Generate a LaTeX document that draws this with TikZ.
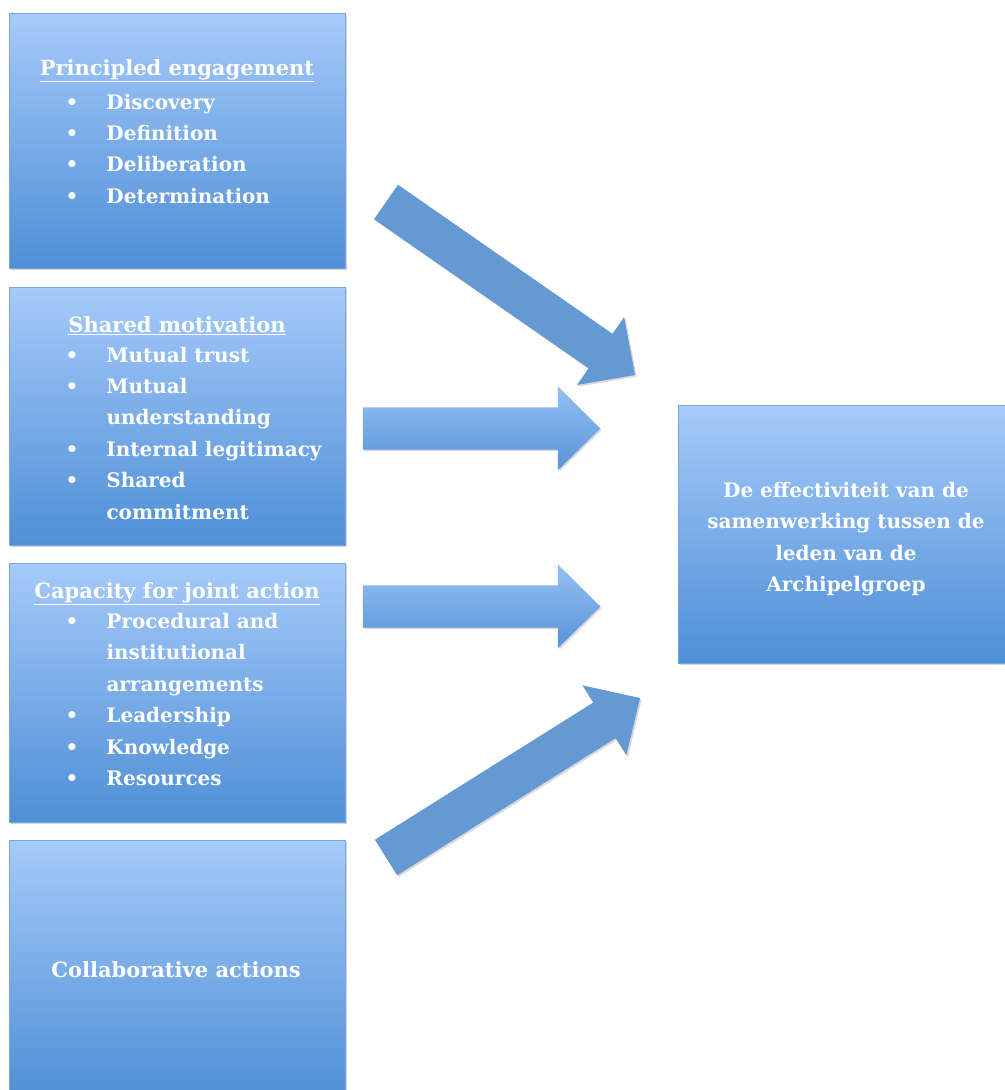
\documentclass[tikz,border=0pt]{standalone}
\usepackage{fontspec}
\setmainfont{DejaVu Serif}
\usetikzlibrary{calc,shadows}

\definecolor{boxtop}{RGB}{166,202,250}
\definecolor{boxbottom}{RGB}{78,143,214}
\definecolor{boxedge}{RGB}{120,165,220}
\definecolor{arrowflat}{RGB}{100,153,212}
\definecolor{arrowtop}{RGB}{150,193,245}
\definecolor{arrowbottom}{RGB}{86,146,215}

\tikzset{every picture/.style={line width=0.75pt}}
\tikzset{
  bluebox/.style={rectangle, draw=boxedge, line width=0.3pt, top color=boxtop, bottom color=boxbottom,
    drop shadow={shadow xshift=1.5pt, shadow yshift=-1.5pt, opacity=0.35}, inner sep=0, minimum width=252pt},
  boxtitle/.style={text=white, font=\fontsize{15.75}{23.6}\selectfont\bfseries, inner sep=0},
  boxtext/.style={text=white, font=\fontsize{15}{23.6}\selectfont\bfseries, inner sep=0},
  flatarrow/.style={fill=arrowflat, drop shadow={shadow xshift=1.2pt, shadow yshift=-1.2pt, opacity=0.3}},
  shadedarrow/.style={top color=arrowtop, bottom color=arrowbottom, draw=boxedge, line width=0.3pt,
    drop shadow={shadow xshift=1.2pt, shadow yshift=-1.2pt, opacity=0.3}}
}

% block arrow from a tail coordinate to a tip coordinate
\newcommand{\blockarrow}[3]{%
  \coordinate (headbase) at ($(#3)!31.5pt!(#2)$);
  \path[#1] ($(#2)!15.75pt!90:(#3)$) -- ($(headbase)!15.75pt!90:(#3)$) -- ($(headbase)!31pt!90:(#3)$)
    -- (#3) -- ($(headbase)!31pt!-90:(#3)$) -- ($(headbase)!15.75pt!-90:(#3)$) -- ($(#2)!15.75pt!-90:(#3)$) -- cycle;
}

\begin{document}
\begin{tikzpicture}[x=0.75pt,y=0.75pt,yscale=-1,xscale=1]
	\useasboundingbox (0,0) rectangle (1005,1090);

	%Shape: Rectangle [principled engagement]
	\node[bluebox, minimum height=191.25pt] (engagement) at (177,140.5) {};
	%Shape: Rectangle [shared motivation]
	\node[bluebox, minimum height=193.5pt] (motivation) at (177,416) {};
	%Shape: Rectangle [capacity for joint action]
	\node[bluebox, minimum height=194.25pt] (capacity) at (177,692.5) {};
	%Shape: Rectangle [collaborative actions]
	\node[bluebox, minimum height=193.5pt] (actions) at (177,969) {};
	%Shape: Rectangle [effectiviteit]
	\node[bluebox, minimum width=250.5pt, minimum height=193.5pt] (effect) at (845,534) {};

	%Block Arrows
	\coordinate (arr1tail) at (386,202);
	\coordinate (arr1tip) at (635,375);
	\coordinate (arr2tail) at (363,428.5);
	\coordinate (arr2tip) at (600,428.5);
	\coordinate (arr3tail) at (363,606.5);
	\coordinate (arr3tip) at (600,606.5);
	\coordinate (arr4tail) at (386,857.5);
	\coordinate (arr4tip) at (640,698);
	\blockarrow{flatarrow}{arr1tail}{arr1tip}
	\blockarrow{shadedarrow}{arr2tail}{arr2tip}
	\blockarrow{shadedarrow}{arr3tail}{arr3tip}
	\blockarrow{flatarrow}{arr4tail}{arr4tip}

	% Text Node
	\node[boxtitle, anchor=base] (engagementtitle) at (177,75) {\underline{Principled engagement}};
	% Text Node
	\node[boxtext, anchor=base west] (engagementlist) at (65,109) {\begin{tabular}[t]{@{}p{30.75pt}@{}l@{}}
		• & Discovery\\ • & Definition\\ • & Deliberation\\ • & Determination\end{tabular}};
	% Text Node
	\node[boxtitle, anchor=base] (motivationtitle) at (177,332) {\underline{Shared motivation}};
	% Text Node
	\node[boxtext, anchor=base west] (motivationlist) at (65,362) {\begin{tabular}[t]{@{}p{30.75pt}@{}l@{}}
		• & Mutual trust\\ • & Mutual\\ & understanding\\ • & Internal legitimacy\\ • & Shared\\ & commitment\end{tabular}};
	% Text Node
	\node[boxtitle, anchor=base] (capacitytitle) at (177,598) {\underline{Capacity for joint action}};
	% Text Node
	\node[boxtext, anchor=base west] (capacitylist) at (65,628.5) {\begin{tabular}[t]{@{}p{30.75pt}@{}l@{}}
		• & Procedural and\\ & institutional\\ & arrangements\\ • & Leadership\\ • & Knowledge\\ • & Resources\end{tabular}};
	% Text Node
	\node[boxtitle, anchor=base] (actionstext) at (176,977) {Collaborative actions};
	% Text Node
	\node[boxtext, anchor=base] (effecttext) at (846,497.5) {\begin{tabular}[t]{@{}c@{}}
		De effectiviteit van de\\ samenwerking tussen de\\ leden van de\\ Archipelgroep\end{tabular}};

\end{tikzpicture}
\end{document}
